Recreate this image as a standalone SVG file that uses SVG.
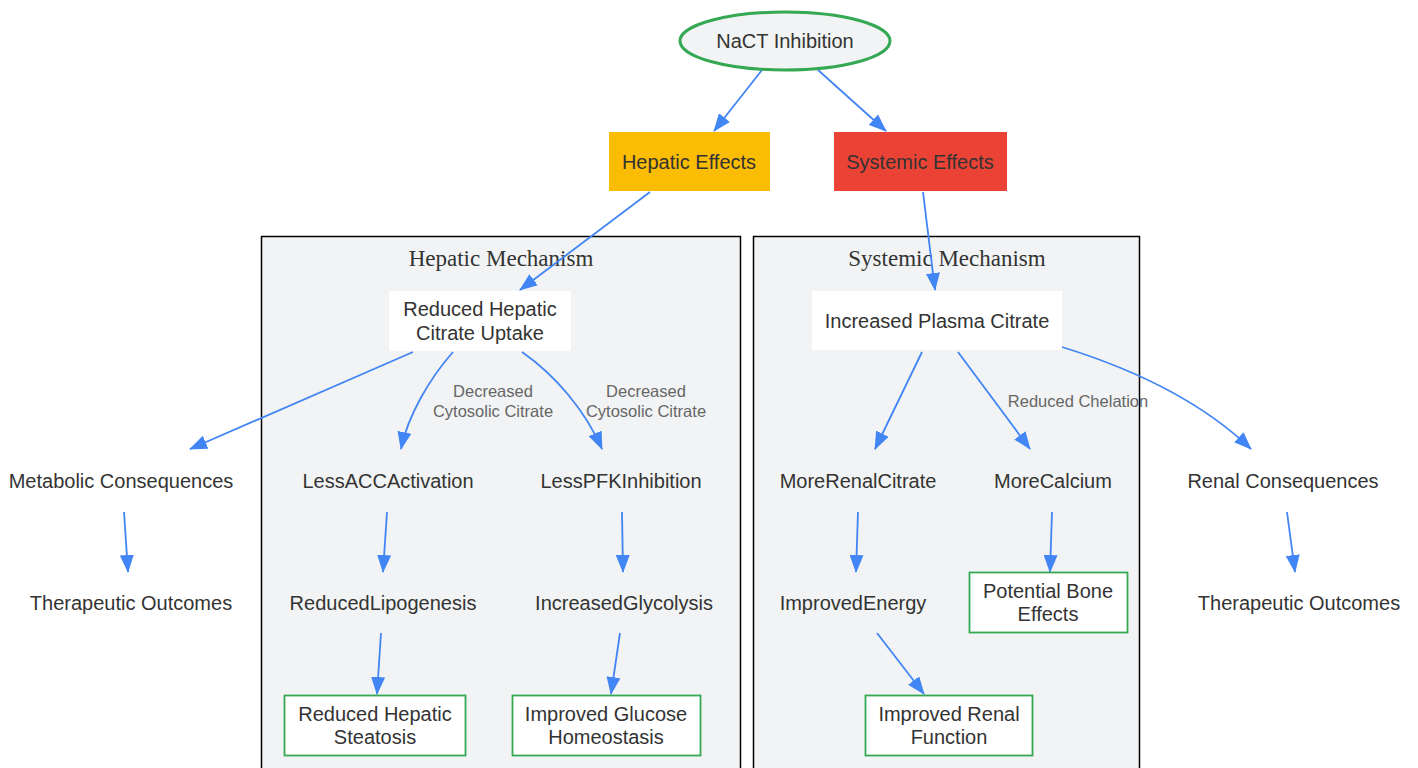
<svg xmlns="http://www.w3.org/2000/svg" width="1418" height="768" viewBox="0 0 1418 768">
<defs>
<marker id="arr" viewBox="0 0 18 14" refX="17" refY="7" markerWidth="18" markerHeight="14" markerUnits="userSpaceOnUse" orient="auto">
<path d="M0,0 L18,7 L0,14 z" fill="#4285F4"/>
</marker>
<style>
.t{font-family:"Liberation Sans",Arial,sans-serif;font-size:20px;fill:#333333;text-anchor:middle;dominant-baseline:central}
.el{font-family:"Liberation Sans",Arial,sans-serif;font-size:16.5px;fill:#666666;text-anchor:middle;dominant-baseline:central}
.ct{font-family:"Liberation Serif","Times New Roman",serif;font-size:23px;fill:#333333;text-anchor:middle;dominant-baseline:central}
.cl{fill:#f1f3f4;stroke:#000000;stroke-width:1.5}
.e{fill:none;stroke:#4285F4;stroke-width:1.8;marker-end:url(#arr)}
.w{fill:#ffffff;stroke:none}
.g{fill:#ffffff;stroke:#34A853;stroke-width:1.8}
</style>
</defs>
<g id="clusters">
<g id="cluster-hepatic"><rect class="cl" x="261.5" y="236.5" width="479" height="560"/><text class="ct" x="501" y="258">Hepatic Mechanism</text></g>
<g id="cluster-systemic"><rect class="cl" x="753.5" y="236.5" width="386" height="560"/><text class="ct" x="947" y="258">Systemic Mechanism</text></g>
</g>
<g id="connectors">
<path class="e" d="M762,70 L714,131"/>
<path class="e" d="M818,70 L886,131"/>
<path class="e" d="M650,192 L520,290"/>
<path class="e" d="M923,192 L935,290"/>
<path class="e" d="M413,352 L190,449"/>
<path class="e" d="M453,352 C430,378 408,415 401,449"/>
<path class="e" d="M522,352 C555,375 585,410 602,449"/>
<path class="e" d="M922,352 L875,449"/>
<path class="e" d="M958,352 L1030,449"/>
<path class="e" d="M1062,347 C1130,368 1200,400 1251,449"/>
<path class="e" d="M124,512 L128,572"/>
<path class="e" d="M387,512 L383,572"/>
<path class="e" d="M622,512 L623,572"/>
<path class="e" d="M858,512 L856,572"/>
<path class="e" d="M1052,512 L1050,572"/>
<path class="e" d="M1287,512 L1295,572"/>
<path class="e" d="M381,633 L377,694"/>
<path class="e" d="M620,633 L611,694"/>
<path class="e" d="M877,633 L924,694"/>
<text class="el" x="493" y="391">Decreased</text>
<text class="el" x="493" y="411">Cytosolic Citrate</text>
<text class="el" x="646" y="391">Decreased</text>
<text class="el" x="646" y="411">Cytosolic Citrate</text>
<text class="el" x="1078" y="401">Reduced Chelation</text>
</g>
<g id="n-nact"><ellipse cx="785" cy="41" rx="105" ry="29" fill="#f1f3f4" stroke="#34A853" stroke-width="3"/><text class="t" x="785" y="41">NaCT Inhibition</text></g>
<g id="n-hepatic"><rect x="609" y="132" width="161" height="59" fill="#FBBC04"/><text class="t" x="689" y="162">Hepatic Effects</text></g>
<g id="n-systemic"><rect x="834" y="132" width="173" height="59" fill="#EA4335"/><text class="t" x="920" y="162">Systemic Effects</text></g>
<g id="n-rhcu"><rect class="w" x="389" y="291" width="182" height="60"/><text class="t" x="480" y="309">Reduced Hepatic</text><text class="t" x="480" y="333">Citrate Uptake</text></g>
<g id="n-ipc"><rect class="w" x="812" y="291" width="250" height="59"/><text class="t" x="937" y="321">Increased Plasma Citrate</text></g>
<g id="n-metabolic"><text class="t" x="121" y="481">Metabolic Consequences</text></g>
<g id="n-lessacc"><text class="t" x="388" y="481">LessACCActivation</text></g>
<g id="n-lesspfk"><text class="t" x="621" y="481">LessPFKInhibition</text></g>
<g id="n-morerenal"><text class="t" x="858" y="481">MoreRenalCitrate</text></g>
<g id="n-morecalcium"><text class="t" x="1053" y="481">MoreCalcium</text></g>
<g id="n-renalcons"><text class="t" x="1283" y="481">Renal Consequences</text></g>
<g id="n-ther1"><text class="t" x="131" y="603">Therapeutic Outcomes</text></g>
<g id="n-lipo"><text class="t" x="383" y="603">ReducedLipogenesis</text></g>
<g id="n-glyco"><text class="t" x="624" y="603">IncreasedGlycolysis</text></g>
<g id="n-energy"><text class="t" x="853" y="603">ImprovedEnergy</text></g>
<g id="n-bone"><rect class="g" x="969.5" y="572.5" width="158" height="60"/><text class="t" x="1048" y="591">Potential Bone</text><text class="t" x="1048" y="614">Effects</text></g>
<g id="n-ther2"><text class="t" x="1299" y="603">Therapeutic Outcomes</text></g>
<g id="n-steatosis"><rect class="g" x="284.5" y="695.5" width="181" height="60"/><text class="t" x="375" y="714">Reduced Hepatic</text><text class="t" x="375" y="737">Steatosis</text></g>
<g id="n-glucose"><rect class="g" x="512.5" y="695.5" width="188" height="60"/><text class="t" x="606" y="714">Improved Glucose</text><text class="t" x="606" y="737">Homeostasis</text></g>
<g id="n-renalfn"><rect class="g" x="865.5" y="695.5" width="167" height="60"/><text class="t" x="949" y="714">Improved Renal</text><text class="t" x="949" y="737">Function</text></g>
</svg>
